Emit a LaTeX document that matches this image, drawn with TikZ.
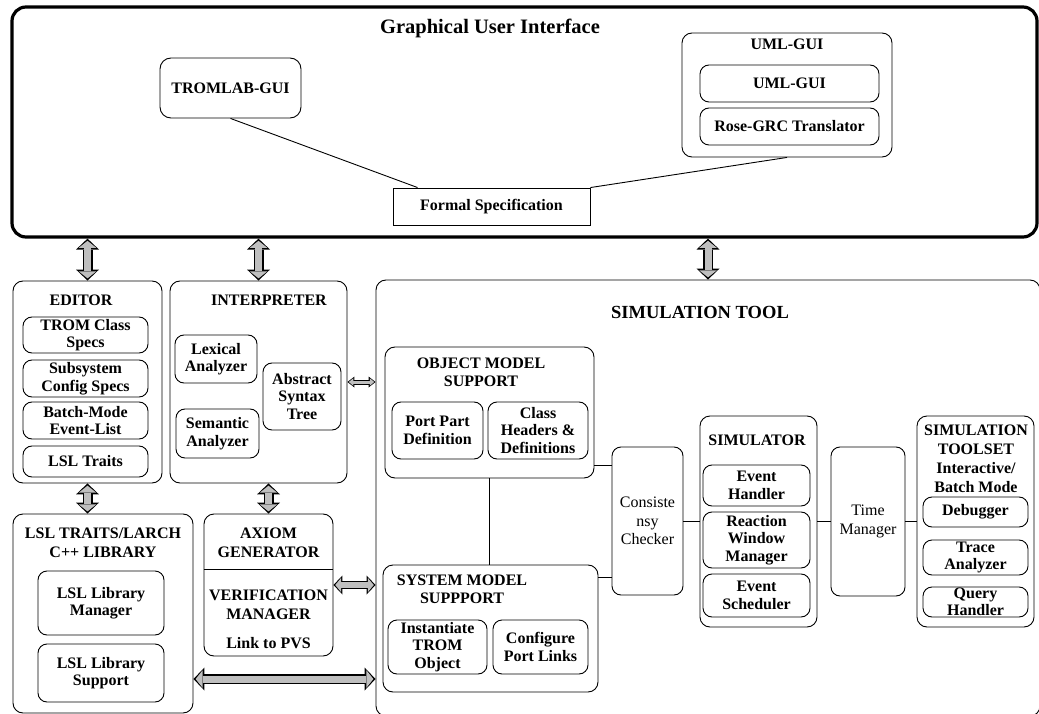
\documentclass[tikz,border=0pt]{standalone}
\usepackage{fontspec}
\setmainfont{Liberation Serif}
\usetikzlibrary{arrows.meta}
\begin{document}
\begin{tikzpicture}[x=1pt, y=-1pt, line width=0.9pt,
        sz/.style 2 args = {minimum width=#1pt, minimum height=#2pt},
        container/.style = {draw, rounded corners=10pt, inner sep=0pt},
        part/.style = {draw, rounded corners=9pt, inner sep=0pt, align=center, font=\fontsize{16}{17.5}\selectfont\bfseries},
        plainbox/.style = {part, font=\fontsize{16}{18.5}\selectfont},
        title/.style = {align=center, inner sep=0pt, font=\fontsize{16}{19}\selectfont\bfseries},
        fat/.style = {draw=gray!50, line width=7pt, shorten <=2.2pt, shorten >=2.2pt,
            {Triangle[length=7pt,width=17.5pt,line width=0pt]}-{Triangle[length=7pt,width=17.5pt,line width=0pt]},
            preaction={draw=black, line width=10pt, shorten <=0pt, shorten >=0pt,
            {Triangle[length=11pt,width=23pt,line width=0pt]}-{Triangle[length=11pt,width=23pt,line width=0pt]}}},
        midfat/.style = {draw=gray!50, line width=5.5pt, shorten <=1.8pt, shorten >=1.8pt,
            {Triangle[length=5.8pt,width=14pt,line width=0pt]}-{Triangle[length=5.8pt,width=14pt,line width=0pt]},
            preaction={draw=black, line width=8pt, shorten <=0pt, shorten >=0pt,
            {Triangle[length=9pt,width=19pt,line width=0pt]}-{Triangle[length=9pt,width=19pt,line width=0pt]}}},
        thinfat/.style = {draw=gray!50, line width=3pt, shorten <=1.3pt, shorten >=1.3pt,
            {Triangle[length=4.5pt,width=7.5pt,line width=0pt]}-{Triangle[length=4.5pt,width=7.5pt,line width=0pt]},
            preaction={draw=black, line width=5pt, shorten <=0pt, shorten >=0pt,
            {Triangle[length=7pt,width=11pt,line width=0pt]}-{Triangle[length=7pt,width=11pt,line width=0pt]}}}]
    \useasboundingbox (0,0) rectangle (1039,714);

    \node[container, rounded corners=14pt, line width=3.2pt, sz={1025}{230}] (gui) at (524.5,122) {};
    \node[title, font=\fontsize{20.5}{22}\selectfont\bfseries] (guititle) at (490,28) {Graphical User Interface};
    \node[part, rounded corners=11pt, sz={141}{60}] (tromlab) at (230.5,88) {TROMLAB-GUI};
    \node[container, sz={210}{124}] (umlgui) at (787,95) {};
    \node[title] (umltitle) at (787,44) {UML-GUI};
    \node[part, sz={179}{37}] (umlinner) at (789.5,83.5) {UML-GUI};
    \node[part, sz={179}{37}] (rose) at (789.5,126.5) {Rose-GRC Translator};
    \node[draw, title, sz={197}{37}] (formal) at (491.5,206.5) {Formal Specification};

    \node[container, sz={149}{202}] (editor) at (87.5,382) {};
    \node[title] (editortitle) at (81,300) {EDITOR};
    \node[part, sz={125}{36}] (tromspec) at (85.5,335) {TROM Class\\Specs};
    \node[part, sz={125}{37}] (subsys) at (85.5,378.5) {Subsystem\\Config Specs};
    \node[part, sz={125}{37}] (batch) at (85.5,420.5) {Batch-Mode\\Event-List};
    \node[part, sz={125}{31}] (lsltraits) at (85.5,461.5) {LSL Traits};

    \node[container, sz={177}{202}] (interp) at (258.5,382) {};
    \node[title] (interptitle) at (269,300) {INTERPRETER};
    \node[part, sz={82}{48}] (lexical) at (216,359) {Lexical\\Analyzer};
    \node[part, sz={83}{49}] (semantic) at (217.5,433.5) {Semantic\\Analyzer};
    \node[part, sz={78}{67}] (ast) at (302,396.5) {Abstract\\Syntax\\Tree};

    \node[container, sz={180}{199}] (lsllib) at (103,613.5) {};
    \node[title] (lsltitle) at (103,543) {LSL TRAITS/LARCH\\C++ LIBRARY};
    \node[part, sz={126}{64}] (libmgr) at (101,603) {LSL Library\\Manager};
    \node[part, sz={126}{58}] (libsup) at (101,673) {LSL Library\\Support};

    \node[container, sz={129}{142}] (axiom) at (268.5,585) {};
    \node[title] (axiomtitle) at (268.5,543) {AXIOM\\GENERATOR};
    \node[title] (verif) at (268.5,604.5) {VERIFICATION\\MANAGER};
    \node[title] (pvs) at (268.5,643) {Link to PVS};
    \draw ([yshift=-56pt]axiom.north west) -- ([yshift=-56pt]axiom.north east);

    \node[container, sz={664}{436}] (simtool) at (708,498) {};
    \node[title, font=\fontsize{18.5}{20}\selectfont\bfseries] (simtitle) at (700,312) {SIMULATION TOOL};

    \node[container, sz={209}{131}] (object) at (489.5,412.5) {};
    \node[title, font=\fontsize{16}{18}\selectfont\bfseries] (objecttitle) at (481,372.5) {OBJECT MODEL\\SUPPORT};
    \node[part, sz={91}{57}] (portpart) at (437.5,430.5) {Port Part\\Definition};
    \node[part, sz={100}{57}] (classhdr) at (538,430.5) {Class\\Headers \&\\Definitions};

    \node[container, sz={215}{127}] (system) at (490.5,628.5) {};
    \node[title, font=\fontsize{16}{18}\selectfont\bfseries] (systemtitle) at (462,589) {SYSTEM MODEL\\SUPPPORT};
    \node[part, sz={99}{54}] (instant) at (437.5,647) {Instantiate\\TROM\\Object};
    \node[part, sz={95}{54}] (portlinks) at (540.5,647) {Configure\\Port Links};

    \node[plainbox, sz={71}{148}] (consist) at (647.5,521) {Consiste\\nsy\\Checker};

    \node[container, sz={117}{211}] (simulator) at (758.5,521.5) {};
    \node[title] (simulatortitle) at (757,440) {SIMULATOR};
    \node[part, sz={107}{41}] (evhandler) at (756.5,485.5) {Event\\Handler};
    \node[part, sz={107}{56}] (reaction) at (756.5,540) {Reaction\\Window\\Manager};
    \node[part, sz={107}{43}] (evsched) at (756.5,595.5) {Event\\Scheduler};

    \node[plainbox, sz={74}{149}] (timemgr) at (868,521.5) {Time\\Manager};

    \node[container, sz={117}{211}] (toolset) at (975.5,521.5) {};
    \node[title] (toolsettitle) at (976,458.5) {SIMULATION\\TOOLSET\\Interactive/\\Batch Mode};
    \node[part, sz={105}{30}] (debugger) at (975.5,512) {Debugger};
    \node[part, sz={105}{35}] (trace) at (975.5,557.5) {Trace\\Analyzer};
    \node[part, sz={105}{30}] (query) at (975.5,602) {Query\\Handler};

    \draw (tromlab.south) -- ([xshift=25pt]formal.north west);
    \draw (umlgui.south) -- (formal.north east);

    \draw[fat] (editor.north |- gui.south) -- (editor.north);
    \draw[fat] (interp.north |- gui.south) -- (interp.north);
    \draw[fat] (simtool.north |- gui.south) -- (simtool.north);
    \draw[fat] (editor.south) -- (editor.south |- lsllib.north);
    \draw[fat] (axiom.north |- interp.south) -- (axiom.north);
    \draw[thinfat] (interp.east) -- (interp.east -| simtool.west);
    \draw[midfat] (axiom.east) -- (axiom.east -| simtool.west);
    \coordinate (lslport) at ([yshift=-65.5pt]lsllib.east);
    \draw[fat] (lslport) -- (lslport -| simtool.west);

    \draw (object.south) -- (object.south |- system.north);
    \coordinate (objport) at ([yshift=-52.5pt]object.east);
    \coordinate (sysport) at ([yshift=51.5pt]system.east);
    \draw (objport) -- (objport -| consist.west);
    \draw (sysport) -- (sysport -| consist.west);
    \draw (consist.east) -- (consist.east -| simulator.west);
    \draw (simulator.east) -- (simulator.east -| timemgr.west);
    \draw (timemgr.east) -- (timemgr.east -| toolset.west);
\end{tikzpicture}
\end{document}
